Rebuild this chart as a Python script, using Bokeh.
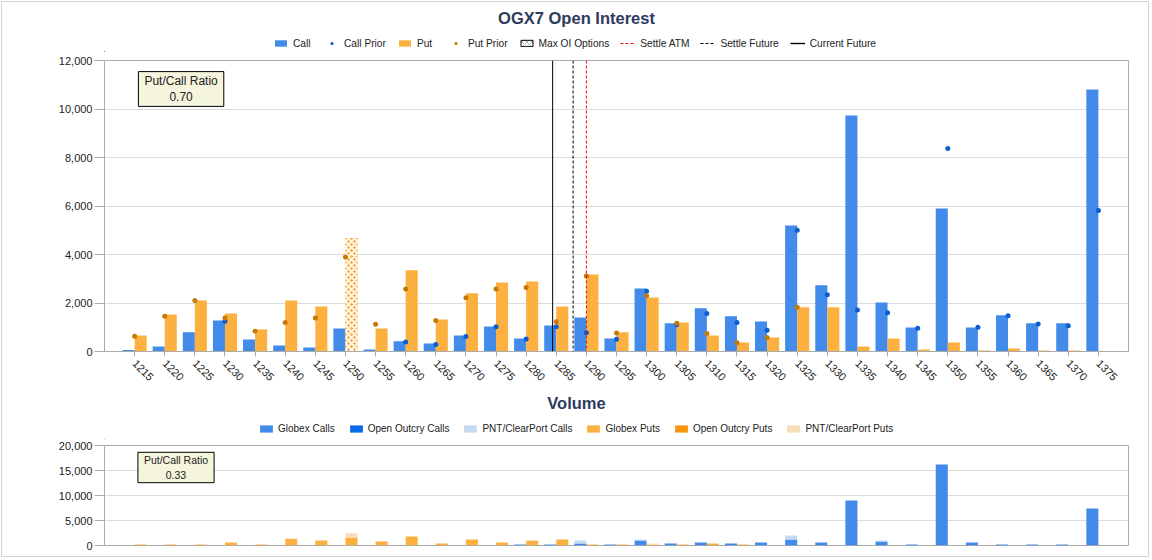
import numpy as np
from bokeh.plotting import figure
from bokeh.models import (ColumnDataSource, Range1d, FixedTicker, NumeralTickFormatter,
                          Legend, LegendItem, Span, Label)
from bokeh.layouts import column
from bokeh.core.properties import value
from bokeh.embed import file_html
from bokeh.resources import INLINE

nan = float("nan")

# ---------------- data ----------------
strikes = [1215, 1220, 1225, 1230, 1235, 1240, 1245, 1250, 1255, 1260, 1265,
           1270, 1275, 1280, 1285, 1290, 1295, 1300, 1305, 1310, 1315, 1320,
           1325, 1330, 1335, 1340, 1345, 1350, 1355, 1360, 1365, 1370, 1375]

call_oi = [60, 210, 790, 1280, 500, 250, 170, 950, 80, 420, 330,
           660, 1030, 540, 1070, 1400, 540, 2600, 1160, 1780, 1450, 1240,
           5200, 2730, 9730, 2020, 990, 5900, 990, 1490, 1160, 1160, 10800]
put_oi = [660, 1530, 2100, 1570, 910, 2100, 1860, 4680, 950, 3350, 1320,
          2400, 2850, 2890, 1860, 3180, 790, 2230, 1200, 660, 370, 580,
          1820, 1820, 210, 540, 80, 370, 40, 120, 40, 40, 0]
call_prior = [nan, nan, nan, 1250, nan, nan, nan, nan, nan, 390, 290,
              620, 1020, 520, 1020, 770, 510, 2480, 1100, 1570, 1200, 880,
              5000, 2340, 1710, 1600, 960, 8370, 1000, 1470, 1130, 1060, 5810]
put_prior = [630, 1450, 2100, 1380, 840, 1200, 1380, 3900, 1120, 2580, 1280,
             2220, 2580, 2640, 1230, 3110, 760, 2300, 1160, 740, 360, 580,
             1820, nan, nan, nan, nan, nan, nan, nan, nan, nan, nan]

settle_atm = 1290.0
settle_future = 1287.8
current_future = 1284.4
oi_put_call_ratio = "0.70"

globex_calls = [0, 0, 0, 0, 0, 0, 0, 0, 0, 0, 0,
                0, 0, 200, 200, 400, 200, 1000, 400, 600, 400, 600,
                1200, 600, 9000, 800, 200, 16200, 600, 200, 200, 200, 7400]
open_outcry_calls = [0] * 33
pnt_calls = [0, 0, 0, 0, 0, 0, 0, 0, 0, 0, 0,
             0, 0, 0, 0, 600, 0, 200, 0, 0, 0, 0,
             800, 0, 0, 200, 0, 0, 0, 0, 0, 0, 0]
globex_puts = [200, 200, 200, 600, 200, 1280, 1000, 1620, 800, 1800, 400,
               1200, 600, 880, 1200, 200, 200, 200, 200, 400, 200, 0,
               0, 0, 0, 0, 0, 0, 0, 0, 0, 0, 0]
open_outcry_puts = [0] * 33
pnt_puts = [0, 0, 0, 0, 0, 140, 0, 810, 0, 0, 0,
            0, 0, 200, 0, 0, 0, 200, 0, 0, 0, 0,
            0, 0, 0, 0, 0, 0, 0, 0, 0, 0, 0]
vol_put_call_ratio = "0.33"

oi_y_ticks = [0, 2000, 4000, 6000, 8000, 10000, 12000]
vol_y_ticks = [0, 5000, 10000, 15000, 20000]

# ---------------- style ----------------
FONT = "Liberation Sans"
BLUE = "#428BEA"
ORANGE = "#FBB040"
BLUE_DOT = "#0B5FCF"
ORANGE_DOT = "#C67A06"
OC_BLUE = "#0A6BE8"
PNT_BLUE = "#C6D9F2"
OC_ORANGE = "#F7960D"
PNT_ORANGE = "#F8DDB8"
TITLE_COLOR = "#2E3A5E"
GRID = "#DCDCDC"
AXIS = "#ABABAB"
FRAME_L, FRAME_W = 104, 1024
PAGE_CX = 576

n = len(strikes)
idx = np.arange(n)
BW = 0.4
OFF = [-1000.0]   # legend-only renderers keep a point far outside the view


def header(height):
    # its frame lines up with the charts' frames (page x 104..1128)
    h = figure(width=1150, height=height, x_range=Range1d(FRAME_L, FRAME_L + FRAME_W),
               y_range=Range1d(0, height), x_axis_type=None, y_axis_type=None,
               output_backend="svg", toolbar_location=None,
               min_border_left=FRAME_L, min_border_right=22, min_border_top=0,
               min_border_bottom=0)
    h.outline_line_color = None
    h.xgrid.grid_line_color = None
    h.ygrid.grid_line_color = None
    h.background_fill_color = None
    h.border_fill_color = None
    return h


def style_axes(p, yticks):
    p.background_fill_color = "white"
    p.border_fill_color = None
    p.outline_line_color = AXIS
    p.xgrid.grid_line_color = None
    p.ygrid.grid_line_color = GRID
    p.ygrid.ticker = FixedTicker(ticks=yticks)
    ya = p.yaxis[0]
    ya.ticker = FixedTicker(ticks=yticks)
    ya.formatter = NumeralTickFormatter(format="0,0")
    ya.axis_line_color = AXIS
    ya.major_tick_line_color = AXIS
    ya.major_tick_out = 10
    ya.major_tick_in = 0
    ya.minor_tick_line_color = None
    ya.major_label_standoff = 2
    ya.major_label_text_font = FONT
    ya.major_label_text_font_size = "11px"
    ya.major_label_text_color = "#222222"


def ratio_box(p, x, y, txt, fs):
    pad = dict(left=6, right=6, top=2, bottom=2)
    p.add_layout(Label(x=x, y=y, x_units="screen", y_units="screen", x_offset=3, y_offset=-3,
                       text=txt, text_align="center", text_baseline="middle",
                       text_font=FONT, text_font_size=fs, text_alpha=0,
                       background_fill_color="#777777", background_fill_alpha=0.55,
                       padding=pad))
    p.add_layout(Label(x=x, y=y, x_units="screen", y_units="screen",
                       text=txt, text_align="center", text_baseline="middle",
                       text_font=FONT, text_font_size=fs, text_color="#222222",
                       background_fill_color="#F5F4DC", border_line_color="black",
                       border_line_width=1, padding=pad))


def legend(items, loc, gw, gh, standoff, spacing, fs):
    return Legend(items=items, location=loc, orientation="horizontal", glyph_width=gw,
                  glyph_height=gh, label_standoff=standoff, spacing=spacing, padding=0,
                  margin=0, border_line_color=None, background_fill_alpha=0,
                  label_height=12, label_text_font=FONT, label_text_font_size=fs,
                  label_text_color="#222222")


# ---------------- header 1: title + legend ----------------
h1 = header(52)
h1.text(x=[PAGE_CX], y=[52 - 17.5], text=["OGX7 Open Interest"],
        text_align="center", text_baseline="middle", text_font=value(FONT),
        text_font_size="16.5px", text_font_style="bold", text_color=TITLE_COLOR)
l_call = h1.vbar(x=OFF, top=[1], width=1, fill_color=BLUE, line_color=None)
l_cp = h1.scatter(x=OFF, y=[1], size=5, fill_color=BLUE_DOT, line_color=None)
l_put = h1.vbar(x=OFF, top=[1], width=1, fill_color=ORANGE, line_color=None)
l_pp = h1.scatter(x=OFF, y=[1], size=5, fill_color=ORANGE_DOT, line_color=None)
l_max = h1.vbar(x=OFF, top=[1], width=1, fill_color="white", line_color="black",
                hatch_pattern="diagonal_cross", hatch_color="#AAAAAA", hatch_scale=5,
                hatch_weight=0.8)
l_atm = h1.line(x=[-1000, -999], y=[1, 1], line_color="#FF0000", line_dash="3 2",
                line_width=1.2)
l_sf = h1.line(x=[-1000, -999], y=[1, 1], line_color="black", line_dash="3 2", line_width=1.2)
l_cf = h1.line(x=[-1000, -999], y=[1, 1], line_color="black", line_width=1.4)
h1.add_layout(legend([LegendItem(label="Call", renderers=[l_call]),
                      LegendItem(label="Call Prior", renderers=[l_cp]),
                      LegendItem(label="Put", renderers=[l_put]),
                      LegendItem(label="Put Prior", renderers=[l_pp]),
                      LegendItem(label="Max OI Options", renderers=[l_max]),
                      LegendItem(label="Settle ATM", renderers=[l_atm]),
                      LegendItem(label="Settle Future", renderers=[l_sf]),
                      LegendItem(label="Current Future", renderers=[l_cf])],
                     (273 - FRAME_L, 3), 15, 8, 5, 11, "10.2px"))

# ---------------- open interest ----------------
p1 = figure(frame_width=FRAME_W, frame_height=291, x_range=Range1d(-1, n),
            y_range=Range1d(0, 12000), output_backend="svg", toolbar_location=None,
            min_border_left=FRAME_L, min_border_right=22, min_border_top=8,
            min_border_bottom=39)
style_axes(p1, oi_y_ticks)
xa = p1.xaxis[0]
xa.ticker = FixedTicker(ticks=list(idx))
xa.major_label_overrides = {int(i): str(s) for i, s in zip(idx, strikes)}
xa.major_label_orientation = -0.785
xa.axis_line_color = AXIS
xa.major_tick_line_color = AXIS
xa.major_tick_out = 5
xa.major_tick_in = 0
xa.minor_tick_line_color = None
xa.major_label_text_font = FONT
xa.major_label_text_font_size = "11px"
xa.major_label_text_color = "#222222"

src = ColumnDataSource(dict(x=idx, xc=idx - BW / 2, xp=idx + BW / 2,
                            call=call_oi, put=put_oi,
                            cp=np.array(call_prior, dtype=float),
                            pp=np.array(put_prior, dtype=float)))
p1.vbar(x="xc", top="call", width=BW, source=src, fill_color=BLUE, line_color=None)
p1.vbar(x="xp", top="put", width=BW, source=src, fill_color=ORANGE, line_color=None)

imax = int(np.argmax(put_oi))
hsrc = ColumnDataSource(dict(x=[imax + BW / 2], top=[put_oi[imax]]))
p1.vbar(x="x", top="top", width=BW, source=hsrc, fill_alpha=0, line_color=None,
        hatch_pattern="diagonal_cross", hatch_color="white", hatch_scale=6, hatch_weight=1.6)

p1.scatter(x="x", y="cp", source=src, size=5, fill_color=BLUE_DOT, line_color=None)
p1.scatter(x="x", y="pp", source=src, size=5, fill_color=ORANGE_DOT, line_color=None)

for loc, col, dash in [(settle_atm, "#FF0000", "3 2"), (settle_future, "black", "3 2"),
                       (current_future, "black", "solid")]:
    p1.add_layout(Span(location=(loc - strikes[0]) / 5.0, dimension="height",
                       line_color=col, line_dash=dash, line_width=1))

ratio_box(p1, 76.6, 262.5, "Put/Call Ratio\n" + oi_put_call_ratio, "12px")

# ---------------- header 2: volume title + legend ----------------
h2 = header(50)
h2.text(x=[PAGE_CX], y=[50 - 12], text=["Volume"],
        text_align="center", text_baseline="middle", text_font=value(FONT),
        text_font_size="16.5px", text_font_style="bold", text_color=TITLE_COLOR)
v_items = []
for lab, col in [("Globex Calls", BLUE), ("Open Outcry Calls", OC_BLUE),
                 ("PNT/ClearPort Calls", PNT_BLUE), ("Globex Puts", ORANGE),
                 ("Open Outcry Puts", OC_ORANGE), ("PNT/ClearPort Puts", PNT_ORANGE)]:
    r = h2.vbar(x=OFF, top=[1], width=1, fill_color=col, line_color=None)
    v_items.append(LegendItem(label=lab, renderers=[r]))
h2.add_layout(legend(v_items, (258 - FRAME_L, 6), 16, 9, 4, 13, "10px"))

# ---------------- volume ----------------
p2 = figure(frame_width=FRAME_W, frame_height=100, x_range=Range1d(-1, n),
            y_range=Range1d(0, 20000), output_backend="svg", toolbar_location=None,
            min_border_left=FRAME_L, min_border_right=22, min_border_top=5,
            min_border_bottom=13)
style_axes(p2, vol_y_ticks)
p2.xaxis.visible = False

vsrc = ColumnDataSource(dict(xc=idx - BW / 2, xp=idx + BW / 2,
                             gc=globex_calls, oc=open_outcry_calls, pc=pnt_calls,
                             gp=globex_puts, op=open_outcry_puts, pp=pnt_puts))
p2.vbar_stack(["gc", "oc", "pc"], x="xc", width=BW, source=vsrc,
              fill_color=[BLUE, OC_BLUE, PNT_BLUE], line_color=None)
p2.vbar_stack(["gp", "op", "pp"], x="xp", width=BW, source=vsrc,
              fill_color=[ORANGE, OC_ORANGE, PNT_ORANGE], line_color=None)

ratio_box(p2, 71.5, 78, "Put/Call Ratio\n" + vol_put_call_ratio, "10.5px")

layout = column(h1, p1, h2, p2, spacing=0,
                styles={"outline": "1px solid #D4D4D4", "outline-offset": "-2px",
                        "background-color": "white"})
open("out.html", "w").write(file_html(layout, INLINE))
